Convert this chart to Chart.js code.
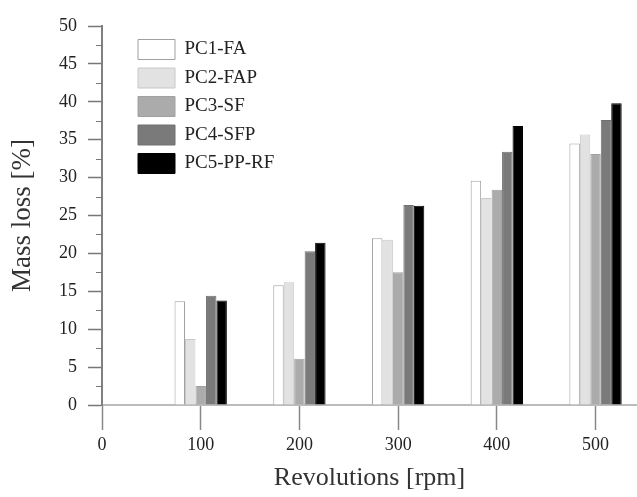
<!DOCTYPE html>
<html>
<head>
<meta charset="utf-8">
<script src="https://cdn.jsdelivr.net/npm/chart.js@4/dist/chart.umd.min.js"></script>
<style>
  html, body { margin: 0; padding: 0; background: #fff; }
  #wrap { width: 637px; height: 497px; position: relative; }
</style>
</head>
<body>
<div id="wrap"><canvas id="c"></canvas></div>
<script>
// ---- data ----
const revolutions = [100, 200, 300, 400, 500];
const seriesNames = ['PC1-FA', 'PC2-FAP', 'PC3-SF', 'PC4-SFP', 'PC5-PP-RF'];
const pc1 = [13.7, 15.8, 22.0, 29.6, 34.5];
const pc2 = [8.7, 16.2, 21.8, 27.3, 35.7];
const pc3 = [2.5, 6.1, 17.5, 28.4, 33.1];
const pc4 = [14.4, 20.3, 26.4, 33.4, 37.6];
const pc5 = [13.8, 21.4, 26.3, 36.8, 39.8];
const xTicks = [0, 100, 200, 300, 400, 500];
const yTicks = [0, 5, 10, 15, 20, 25, 30, 35, 40, 45, 50];
const yMinorTicks = [2.5, 7.5, 12.5, 17.5, 22.5, 27.5, 32.5, 37.5, 42.5, 47.5];

// ---- styles ----
const fills = ['#ffffff', '#e2e2e2', '#ababab', '#7a7a7a', '#000000'];
const borders = ['#a0a0a0', '#c8c8c8', '#a0a0a0', '#707070', '#000000'];
const FONT = "'Liberation Serif', 'Times New Roman', serif";

const allSeries = [pc1, pc2, pc3, pc4, pc5];
const datasets = allSeries.map((vals, i) => ({
  label: seriesNames[i],
  data: revolutions.map((r, j) => ({ x: r, y: vals[j] })),
  backgroundColor: fills[i],
  borderColor: borders[i],
  borderWidth: 1,
  barPercentage: 1.0,
  categoryPercentage: 0.53
}));

const legendShift = {
  id: 'legendShift',
  afterLayout(chart) {
    const lg = chart.legend;
    if (!lg) return;
    lg.left += 27.5; lg.right += 27.5;
    lg.top += 31; lg.bottom += 31;
  }
};

const minorTicks = {
  id: 'minorTicks',
  afterDraw(chart) {
    const y = chart.scales.y;
    const ctx = chart.ctx;
    ctx.save();
    ctx.strokeStyle = '#777';
    ctx.lineWidth = 1;
    yMinorTicks.forEach(v => {
      const py = Math.round(y.getPixelForValue(v)) + 0.5;
      ctx.beginPath();
      ctx.moveTo(y.right - 6, py);
      ctx.lineTo(y.right, py);
      ctx.stroke();
    });
    ctx.restore();
  }
};

new Chart(document.getElementById('c'), {
  type: 'bar',
  data: { datasets },
  options: {
    responsive: true,
    maintainAspectRatio: false,
    animation: false,
    layout: { padding: { top: 26, right: 0, left: 0, bottom: 0 } },
    plugins: {
      legend: {
        position: 'chartArea',
        align: 'start',
        labels: {
          boxWidth: 37,
          boxHeight: 20,
          padding: 8.5,
          color: '#222',
          font: { family: FONT, size: 19 }
        }
      },
      tooltip: { enabled: false }
    },
    scales: {
      x: {
        type: 'linear',
        min: 0,
        max: 542,
        offset: false,
        afterBuildTicks: (s) => { s.ticks = xTicks.map(v => ({ value: v })); },
        afterFit: (s) => { s.height = 92; },
        grid: {
          offset: false,
          drawOnChartArea: false,
          tickLength: 25,
          tickColor: '#888',
          tickWidth: 1.5
        },
        border: { color: '#bbbbbb', width: 2 },
        ticks: {
          padding: 4,
          color: '#222',
          font: { family: FONT, size: 18 },
          maxRotation: 0
        },
        title: {
          display: true,
          text: 'Revolutions [rpm]',
          color: '#333',
          font: { family: FONT, size: 26 },
          padding: { top: 4, bottom: 3 }
        }
      },
      y: {
        min: 0,
        max: 50,
        afterBuildTicks: (s) => { s.ticks = yTicks.map(v => ({ value: v })); },
        afterFit: (s) => { s.width = 102; },
        grid: {
          drawOnChartArea: false,
          tickLength: 14,
          tickColor: '#777',
          tickWidth: 1.5
        },
        border: { color: '#808080', width: 2 },
        ticks: {
          padding: 11,
          color: '#222',
          font: { family: FONT, size: 18 }
        },
        title: {
          display: true,
          text: 'Mass loss [%]',
          color: '#333',
          font: { family: FONT, size: 27 },
          padding: { top: 7, bottom: 0 }
        }
      }
    }
  },
  plugins: [legendShift, minorTicks]
});
</script>
</body>
</html>
